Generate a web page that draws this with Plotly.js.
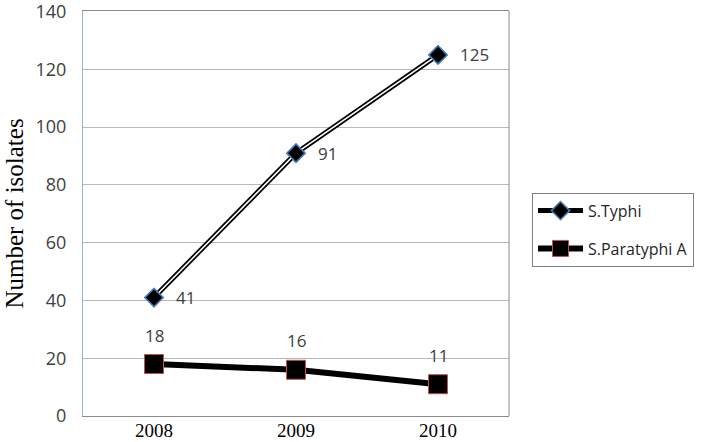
<!DOCTYPE html>
<html><head><meta charset="utf-8">
<script src="https://cdn.plot.ly/plotly-3.0.1.min.js"></script>
<style>body{margin:0;background:#fff}#c{width:710px;height:442px}</style>
</head><body><div id="c"></div>
<script>
var years = ['2008', '2009', '2010'];
var typhi = [41, 91, 125];
var paratyphi = [18, 16, 11];
var yTicks = [0, 20, 40, 60, 80, 100, 120, 140];

var lblFont = {family: 'Open Sans, Liberation Sans, sans-serif', size: 17, color: '#404040'};

var traces = [
  {x: years, y: typhi, name: 'S.Typhi', legendgroup: 'a', mode: 'lines+markers', type: 'scatter',
   line: {color: '#000', width: 5},
   marker: {symbol: 'diamond', size: 14, color: '#000', line: {color: '#4a7ebb', width: 1.5}}},
  {x: years, y: typhi, mode: 'lines', showlegend: false, hoverinfo: 'skip',
   line: {color: '#fff', width: 1.5}},
  {x: years, y: typhi, mode: 'markers', showlegend: false, hoverinfo: 'skip',
   marker: {symbol: 'diamond', size: 14, color: '#000', line: {color: '#4a7ebb', width: 1.5}}},
  {x: years, y: paratyphi, name: 'S.Paratyphi A', legendgroup: 'b', mode: 'lines+markers', type: 'scatter',
   line: {color: '#000', width: 6},
   marker: {symbol: 'square', size: 19, color: '#000', line: {color: '#c0504d', width: 1}}}
];

var ann = [];
years.forEach(function(yr, i){
  ann.push({x: i, y: typhi[i], text: String(typhi[i]), showarrow: false, xanchor: 'left', xshift: 20, font: lblFont});
  ann.push({x: i, y: paratyphi[i], text: String(paratyphi[i]), showarrow: false, yshift: 29, font: lblFont});
});

var layout = {
  width: 710, height: 442,
  margin: {l: 83, r: 201, t: 11, b: 26},
  paper_bgcolor: '#fff', plot_bgcolor: '#fff',
  showlegend: true,
  legend: {x: 1.054, y: 0.46, xanchor: 'left', yanchor: 'middle',
    bordercolor: '#7f7f7f', borderwidth: 1, bgcolor: '#fff',
    font: {family: 'Open Sans, Liberation Sans, sans-serif', size: 16, color: '#262626'},
    tracegroupgap: 14, itemwidth: 45},
  xaxis: {type: 'category', range: [-0.5, 2.5], showgrid: false, zeroline: false,
    showline: true, linecolor: '#8a8a8a', linewidth: 1, mirror: true, ticks: '',
    ticklabelstandoff: -3,
    tickfont: {family: 'Liberation Serif, Times New Roman, serif', size: 19, color: '#000'}},
  yaxis: {range: [0, 140.2], tickvals: yTicks, showgrid: true, gridcolor: '#b8b8b8', gridwidth: 1,
    zeroline: false, showline: true, linecolor: '#8db3e2', linewidth: 1, ticks: '',
    ticklabeloverflow: 'allow', ticklabelstandoff: 12,
    tickfont: {family: 'Open Sans, Liberation Sans, sans-serif', size: 18, color: '#404040'},
    title: {text: 'Number of isolates', standoff: 4,
      font: {family: 'Liberation Serif, Times New Roman, serif', size: 25, color: '#000'}}},
  shapes: [{type: 'line', xref: 'paper', yref: 'paper', x0: 1, x1: 1, y0: 0, y1: 1,
    line: {color: '#8a8a8a', width: 1}}],
  annotations: ann
};

Plotly.newPlot('c', traces, layout, {displayModeBar: false, staticPlot: true});
</script>
</body></html>
